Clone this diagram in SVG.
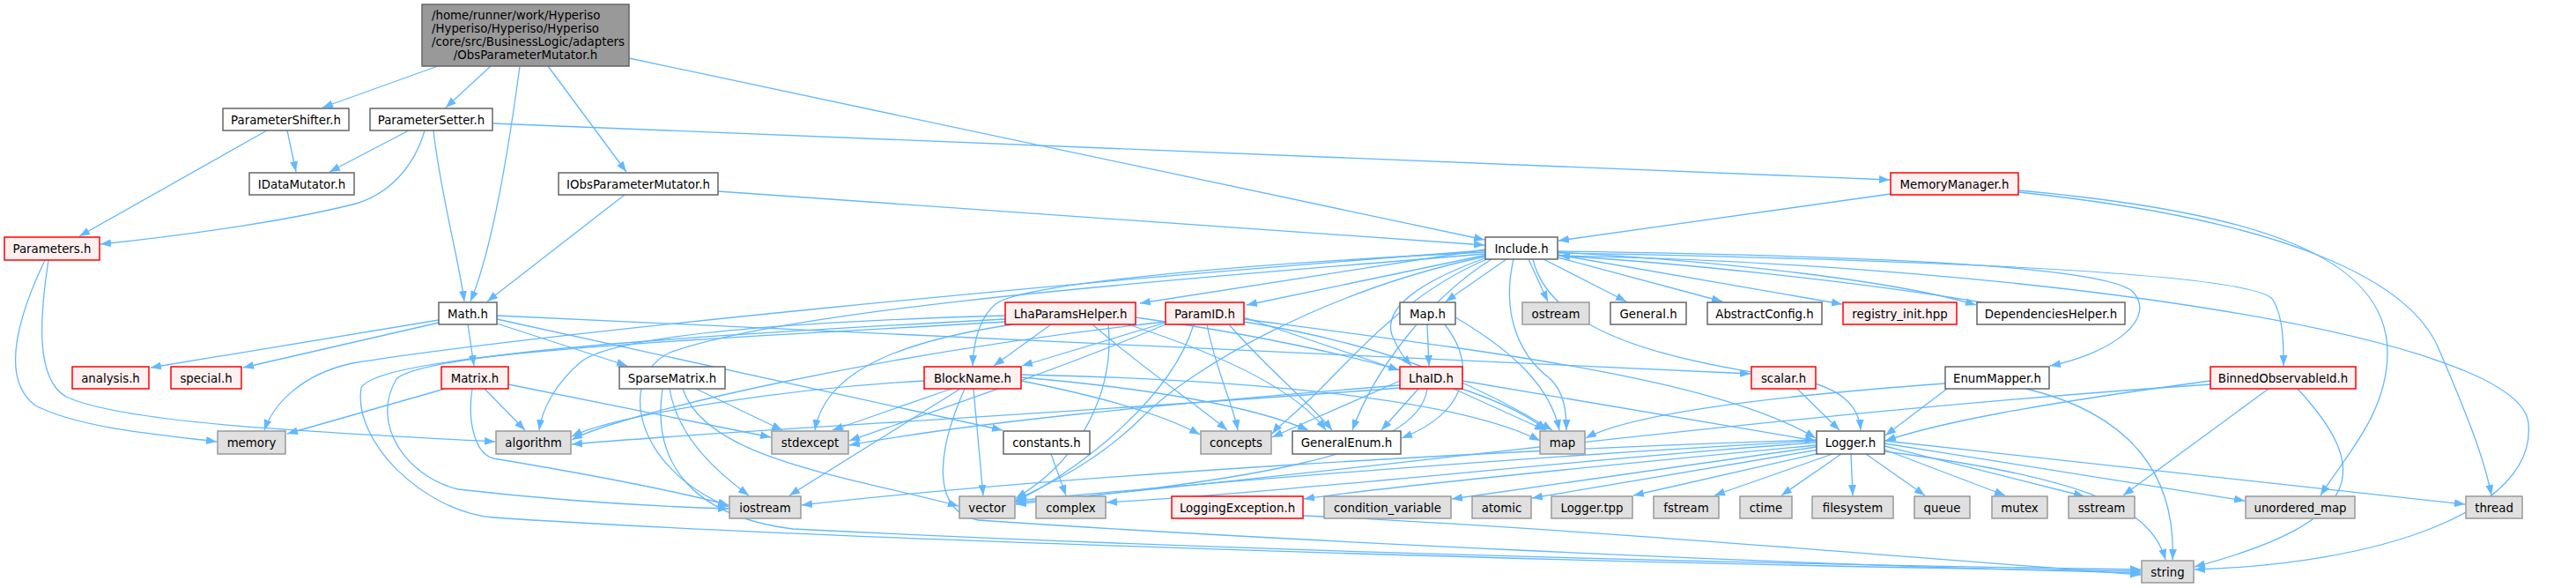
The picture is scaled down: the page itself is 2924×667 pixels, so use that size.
<svg xmlns="http://www.w3.org/2000/svg" width="2924" height="667" viewBox="0 0 2924 667">
<style>
.e path{fill:none;stroke:#63B8FF;stroke-width:1.3;marker-end:url(#a)}
rect{stroke-width:1.5}
.w rect{fill:#fff;stroke:#666}
.g rect{fill:#E0E0E0;stroke:#999}
.r rect{fill:#FFF0F0;stroke:#F00}
.root rect{fill:#999;stroke:#666}
text{font-family:"DejaVu Sans","Liberation Sans",sans-serif;font-size:13.33px;fill:#000;text-anchor:middle}
</style>
<defs>
<marker id="a" markerUnits="userSpaceOnUse" markerWidth="12" markerHeight="10" viewBox="0 0 12 10" refX="12" refY="5" orient="auto"><path d="M0,0.5L12,5L0,9.5z" fill="#63B8FF"/></marker>
</defs>
<g class="e" id="edges">
<path d="M497,75L366,122"/>
<path d="M557,75L506,122"/>
<path d="M590,75C580,150 560,280 534,342"/>
<path d="M622,75L711,195"/>
<path d="M714,66L1685,272"/>
<path d="M326,148L336,195"/>
<path d="M303,148L90,268"/>
<path d="M464,148L374,195"/>
<path d="M482,148C470,190 440,222 400,232C320,252 200,268 114,277"/>
<path d="M492,148C500,220 520,290 527,342"/>
<path d="M559,140L2145,204"/>
<path d="M709,221L553,342"/>
<path d="M815,217L1685,278"/>
<path d="M2146,220L1769,273"/>
<path d="M2291,216C2560,240 2710,290 2710,400C2710,470 2660,520 2634,562"/>
<path d="M2291,218C2600,250 2740,320 2770,400C2800,470 2820,520 2828,562"/>
<path d="M51,295C20,360 0,430 40,460C90,485 170,492 246,501"/>
<path d="M55,295C45,360 40,430 75,450C140,480 350,490 562,501"/>
<path d="M498,363L171,417"/>
<path d="M498,366L276,417"/>
<path d="M531,368L538,415"/>
<path d="M564,367L712,415"/>
<path d="M564,362L1138,488"/>
<path d="M564,358C900,375 1600,405 1987,424"/>
<path d="M505,441L326,492"/>
<path d="M550,441L596,488"/>
<path d="M536,441C530,480 540,515 560,520C650,535 760,555 827,573"/>
<path d="M577,436L875,496"/>
<path d="M1686,283L1294,344"/>
<path d="M1688,289L1415,346"/>
<path d="M1686,286C1400,300 1160,322 1130,345C1110,362 1105,390 1104,415"/>
<path d="M1710,294L1641,342"/>
<path d="M1735,294L1757,342"/>
<path d="M1752,294L1846,342"/>
<path d="M1768,292L1955,342"/>
<path d="M1768,289L2091,345"/>
<path d="M1768,286C1950,296 2150,318 2243,346"/>
<path d="M2250,343C2100,318 1900,298 1770,290"/>
<path d="M1688,292C1610,320 1570,350 1580,380C1588,400 1596,408 1602,415"/>
<path d="M1718,294C1705,350 1720,400 1760,430C1775,445 1778,465 1778,488"/>
<path d="M1690,293C1600,330 1540,400 1500,440C1470,470 1452,482 1444,492"/>
<path d="M1693,294C1620,340 1560,420 1535,488"/>
<path d="M1686,291C1500,330 1350,420 1300,470C1250,520 1200,545 1153,567"/>
<path d="M1686,288C1300,320 900,350 760,400C700,430 720,530 827,575"/>
<path d="M1686,284C1200,320 600,380 400,412C340,425 310,460 300,488"/>
<path d="M1768,290C2300,300 2860,380 2870,480C2880,580 2700,640 2491,646"/>
<path d="M1740,294C1760,380 1900,410 2040,430C2090,440 2110,460 2112,488"/>
<path d="M1768,285C2100,290 2380,300 2420,330C2450,360 2400,400 2327,415"/>
<path d="M1768,287C2200,295 2560,310 2580,340C2592,360 2592,390 2592,415"/>
<path d="M1193,368L1128,415"/>
<path d="M1141,358C900,365 700,380 660,410C630,435 615,465 612,488"/>
<path d="M1150,368C1000,390 935,430 925,488"/>
<path d="M1141,362C800,380 480,400 450,430C420,480 460,540 520,555C650,570 760,575 827,577"/>
<path d="M1141,365C800,385 430,400 410,440C400,500 480,580 560,587C900,610 1800,640 2430,648"/>
<path d="M1258,368C1265,440 1230,520 1153,565"/>
<path d="M1240,368C1300,420 1360,460 1393,488"/>
<path d="M1280,368C1380,400 1470,440 1505,488"/>
<path d="M1289,360C1500,390 1700,440 1755,488"/>
<path d="M1323,366L1160,415"/>
<path d="M1412,360L1588,420"/>
<path d="M1370,368C1380,420 1400,460 1405,488"/>
<path d="M1395,368C1440,420 1490,460 1512,488"/>
<path d="M1412,365C1600,395 1700,450 1762,488"/>
<path d="M1323,368C1200,420 1050,470 964,500"/>
<path d="M1323,365C1000,400 700,470 649,499"/>
<path d="M1355,368C1330,450 1230,530 1153,569"/>
<path d="M1412,362C1700,400 1950,430 2061,497"/>
<path d="M1049,432C900,440 700,470 649,495"/>
<path d="M1080,441L945,488"/>
<path d="M1090,441L896,562"/>
<path d="M1105,441L1116,562"/>
<path d="M1095,441C1060,520 1060,580 1110,590C1400,610 2000,640 2430,650"/>
<path d="M1159,432C1250,450 1320,470 1362,493"/>
<path d="M1159,428C1300,440 1420,460 1485,488"/>
<path d="M1159,425C1400,430 1650,450 1748,500"/>
<path d="M1610,441L1568,488"/>
<path d="M1589,432L1444,496"/>
<path d="M1589,437C1300,460 1100,480 964,505"/>
<path d="M1589,440C1200,470 800,490 649,504"/>
<path d="M1650,441L1754,488"/>
<path d="M1660,432L2061,500"/>
<path d="M1620,441C1610,520 1400,545 1153,572"/>
<path d="M1620,368L1622,415"/>
<path d="M1640,368C1680,420 1660,470 1591,497"/>
<path d="M1652,360C1720,400 1760,440 1770,488"/>
<path d="M2040,441L2088,488"/>
<path d="M2208,435C2000,450 1850,470 1800,497"/>
<path d="M2300,441C2420,470 2470,540 2466,635"/>
<path d="M2210,441L2140,494"/>
<path d="M2575,441L2410,562"/>
<path d="M2608,441C2690,530 2690,590 2491,643"/>
<path d="M2509,432C2300,460 2200,480 2140,500"/>
<path d="M2509,436C2000,470 1500,540 1153,570"/>
<path d="M790,441L888,488"/>
<path d="M760,441C770,500 820,540 850,562"/>
<path d="M775,441C800,520 960,540 1088,574"/>
<path d="M752,441C740,520 780,585 900,600C1400,625 2000,640 2430,646"/>
<path d="M1193,515L1210,562"/>
<path d="M2062,505C1800,530 1550,555 1480,566"/>
<path d="M2062,507L1648,566"/>
<path d="M2065,510L1739,565"/>
<path d="M2070,513L1854,562"/>
<path d="M2080,515L1946,562"/>
<path d="M2090,515L2022,562"/>
<path d="M2101,515L2103,562"/>
<path d="M2118,515L2185,562"/>
<path d="M2139,510L2276,562"/>
<path d="M2139,506L2366,563"/>
<path d="M2139,503L2548,568"/>
<path d="M2139,500L2798,572"/>
<path d="M2139,512C2350,540 2440,570 2458,635"/>
<path d="M2062,499C1700,510 1200,540 910,573"/>
<path d="M2062,500C1700,520 1400,545 1153,568"/>
<path d="M2062,502C1800,520 1500,555 1256,570"/>
<path d="M1479,585C1800,600 2200,635 2430,652"/>
</g>
<g id="n_root" class="root"><rect x="479" y="5" width="235" height="70"/><text x="490" y="21.5" style="text-anchor:start">/home/runner/work/Hyperiso</text><text x="490" y="36.5" style="text-anchor:start">/Hyperiso/Hyperiso/Hyperiso</text><text x="490" y="51.5" style="text-anchor:start">/core/src/BusinessLogic/adapters</text><text x="596.5" y="66.5">/ObsParameterMutator.h</text></g>
<g id="n_pshifter" class="w"><rect x="253" y="123" width="143" height="25"/><text x="324.5" y="140.5">ParameterShifter.h</text></g>
<g id="n_psetter" class="w"><rect x="420" y="123" width="139" height="25"/><text x="489.5" y="140.5">ParameterSetter.h</text></g>
<g id="n_idatamutator" class="w"><rect x="283" y="196" width="119" height="25"/><text x="342.5" y="213.5">IDataMutator.h</text></g>
<g id="n_iobspm" class="w"><rect x="634" y="196" width="181" height="25"/><text x="724.5" y="213.5">IObsParameterMutator.h</text></g>
<g id="n_memmgr" class="r"><rect x="2146" y="196" width="145" height="25"/><text x="2218.5" y="213.5">MemoryManager.h</text></g>
<g id="n_parameters" class="r"><rect x="5" y="269" width="108" height="26"/><text x="59" y="287">Parameters.h</text></g>
<g id="n_math" class="w"><rect x="498" y="343" width="66" height="25"/><text x="531" y="360.5">Math.h</text></g>
<g id="n_include" class="w"><rect x="1686" y="269" width="82" height="25"/><text x="1727" y="286.5">Include.h</text></g>
<g id="n_analysis" class="r"><rect x="82" y="416" width="87" height="25"/><text x="125.5" y="433.5">analysis.h</text></g>
<g id="n_special" class="r"><rect x="194" y="416" width="80" height="25"/><text x="234" y="433.5">special.h</text></g>
<g id="n_matrix" class="r"><rect x="501" y="416" width="76" height="25"/><text x="539" y="433.5">Matrix.h</text></g>
<g id="n_sparse" class="w"><rect x="703" y="416" width="120" height="25"/><text x="763" y="433.5">SparseMatrix.h</text></g>
<g id="n_lhaparams" class="r"><rect x="1141" y="343" width="148" height="25"/><text x="1215" y="360.5">LhaParamsHelper.h</text></g>
<g id="n_paramid" class="r"><rect x="1323" y="343" width="89" height="25"/><text x="1367.5" y="360.5">ParamID.h</text></g>
<g id="n_blockname" class="r"><rect x="1049" y="416" width="110" height="25"/><text x="1104" y="433.5">BlockName.h</text></g>
<g id="n_map_h" class="w"><rect x="1589" y="343" width="63" height="25"/><text x="1620.5" y="360.5">Map.h</text></g>
<g id="n_ostream" class="g"><rect x="1728" y="343" width="76" height="25"/><text x="1766" y="360.5">ostream</text></g>
<g id="n_general" class="w"><rect x="1828" y="343" width="86" height="25"/><text x="1871" y="360.5">General.h</text></g>
<g id="n_abstractconfig" class="w"><rect x="1938" y="343" width="130" height="25"/><text x="2003" y="360.5">AbstractConfig.h</text></g>
<g id="n_registry" class="r"><rect x="2092" y="343" width="129" height="25"/><text x="2156.5" y="360.5">registry_init.hpp</text></g>
<g id="n_dephelper" class="w"><rect x="2244" y="343" width="168" height="25"/><text x="2328" y="360.5">DependenciesHelper.h</text></g>
<g id="n_lhaid" class="r"><rect x="1589" y="416" width="71" height="25"/><text x="1624.5" y="433.5">LhaID.h</text></g>
<g id="n_scalar" class="r"><rect x="1988" y="416" width="73" height="25"/><text x="2024.5" y="433.5">scalar.h</text></g>
<g id="n_enummapper" class="w"><rect x="2208" y="416" width="118" height="25"/><text x="2267" y="433.5">EnumMapper.h</text></g>
<g id="n_binnedobs" class="r"><rect x="2509" y="416" width="165" height="25"/><text x="2591.5" y="433.5">BinnedObservableId.h</text></g>
<g id="n_memory" class="g"><rect x="247" y="489" width="77" height="26"/><text x="285.5" y="507">memory</text></g>
<g id="n_algorithm" class="g"><rect x="563" y="489" width="85" height="26"/><text x="605.5" y="507">algorithm</text></g>
<g id="n_stdexcept" class="g"><rect x="876" y="489" width="87" height="26"/><text x="919.5" y="507">stdexcept</text></g>
<g id="n_constants" class="w"><rect x="1139" y="489" width="98" height="26"/><text x="1188" y="507">constants.h</text></g>
<g id="n_concepts" class="g"><rect x="1363" y="489" width="80" height="26"/><text x="1403" y="507">concepts</text></g>
<g id="n_generalenum" class="w"><rect x="1467" y="489" width="123" height="26"/><text x="1528.5" y="507">GeneralEnum.h</text></g>
<g id="n_map" class="g"><rect x="1748" y="489" width="51" height="26"/><text x="1773.5" y="507">map</text></g>
<g id="n_logger" class="w"><rect x="2062" y="489" width="77" height="26"/><text x="2100.5" y="507">Logger.h</text></g>
<g id="n_iostream" class="g"><rect x="828" y="563" width="81" height="25"/><text x="868.5" y="580.5">iostream</text></g>
<g id="n_vector" class="g"><rect x="1089" y="563" width="63" height="25"/><text x="1120.5" y="580.5">vector</text></g>
<g id="n_complex" class="g"><rect x="1176" y="563" width="79" height="25"/><text x="1215.5" y="580.5">complex</text></g>
<g id="n_loggingexception" class="r"><rect x="1330" y="563" width="149" height="25"/><text x="1404.5" y="580.5">LoggingException.h</text></g>
<g id="n_condvar" class="g"><rect x="1503" y="563" width="144" height="25"/><text x="1575" y="580.5">condition_variable</text></g>
<g id="n_atomic" class="g"><rect x="1671" y="563" width="67" height="25"/><text x="1704.5" y="580.5">atomic</text></g>
<g id="n_loggertpp" class="g"><rect x="1761" y="563" width="92" height="25"/><text x="1807" y="580.5">Logger.tpp</text></g>
<g id="n_fstream" class="g"><rect x="1877" y="563" width="74" height="25"/><text x="1914" y="580.5">fstream</text></g>
<g id="n_ctime" class="g"><rect x="1975" y="563" width="59" height="25"/><text x="2004.5" y="580.5">ctime</text></g>
<g id="n_filesystem" class="g"><rect x="2057" y="563" width="92" height="25"/><text x="2103" y="580.5">filesystem</text></g>
<g id="n_queue" class="g"><rect x="2173" y="563" width="63" height="25"/><text x="2204.5" y="580.5">queue</text></g>
<g id="n_mutex" class="g"><rect x="2261" y="563" width="63" height="25"/><text x="2292.5" y="580.5">mutex</text></g>
<g id="n_sstream" class="g"><rect x="2348" y="563" width="75" height="25"/><text x="2385.5" y="580.5">sstream</text></g>
<g id="n_unorderedmap" class="g"><rect x="2549" y="563" width="124" height="25"/><text x="2611" y="580.5">unordered_map</text></g>
<g id="n_thread" class="g"><rect x="2799" y="563" width="64" height="25"/><text x="2831" y="580.5">thread</text></g>
<g id="n_string" class="g"><rect x="2431" y="636" width="59" height="25"/><text x="2460.5" y="653.5">string</text></g>
</svg>
